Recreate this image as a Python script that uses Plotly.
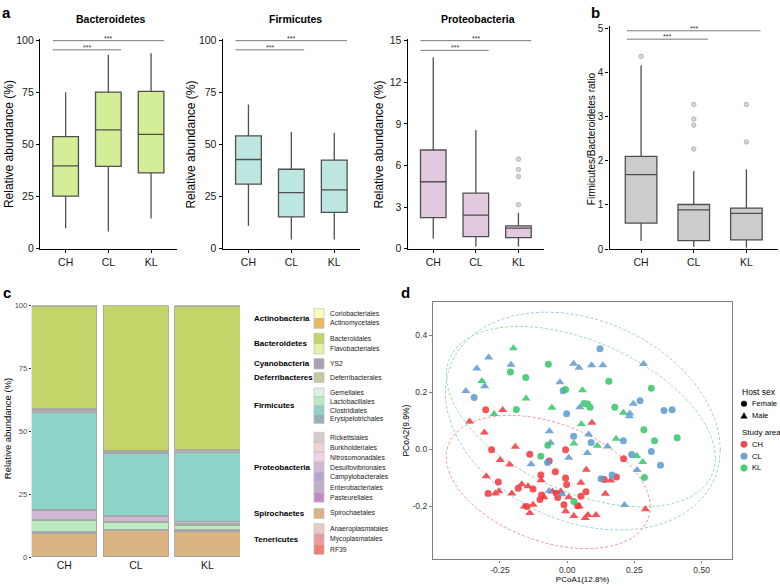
import numpy as np
import plotly.graph_objects as go

# ---------------- DATA ----------------
groups = ['CH', 'CL', 'KL']

# Panel a: box statistics (relative abundance, %)
bact_low = [9.9, 8.3, 14.5]
bact_q1 = [25.3, 39.6, 36.5]
bact_med = [39.8, 57.1, 55.0]
bact_q3 = [53.9, 75.3, 75.6]
bact_high = [75.2, 93.2, 94.0]

firm_low = [11.0, 4.4, 4.4]
firm_q1 = [31.1, 15.3, 17.5]
firm_med = [42.9, 27.0, 28.3]
firm_q3 = [54.2, 38.2, 42.6]
firm_high = [69.3, 56.1, 55.7]

prot_low = [0.73, 0.17, 0.17]
prot_q1 = [2.24, 0.87, 0.80]
prot_med = [4.83, 2.43, 1.49]
prot_q3 = [7.12, 4.01, 1.65]
prot_high = [13.8, 8.56, 2.59]
prot_out_KL = [6.46, 5.71, 5.21, 3.18]

# Panel b: Firmicutes/Bacteroidetes ratio
fb_low = [0.18, 0.05, 0.03]
fb_q1 = [0.59, 0.19, 0.21]
fb_med = [1.69, 0.89, 0.81]
fb_q3 = [2.10, 1.01, 0.93]
fb_high = [4.17, 1.77, 1.81]
fb_out_CH = [4.37]
fb_out_CL = [3.28, 2.95, 2.81, 2.27]
fb_out_KL = [3.28, 2.43]

# significance brackets
sig_pairs = [('CH', 'CL'), ('CH', 'KL')]
sig_labels = ['***', '***']
sig_y_bact = [95.6, 100.0]
sig_y_firm = [95.6, 100.0]
sig_y_prot = [14.3, 15.0]
sig_y_fb = [4.76, 4.95]

# Panel c: order-level composition (legend order)
phyla = ['Actinobacteria', 'Bacteroidetes', 'Cyanobacteria', 'Deferribacteres',
         'Firmicutes', 'Proteobacteria', 'Spirochaetes', 'Tenericutes']
phylum_orders = [
    ['Coriobacteriales', 'Actinomycetales'],
    ['Bacteroidales', 'Flavobacteriales'],
    ['YS2'],
    ['Deferribacterales'],
    ['Gemellales', 'Lactobacillales', 'Clostridiales', 'Erysipelotrichales'],
    ['Rickettsiales', 'Burkholderiales', 'Nitrosomonadales', 'Desulfovibrionales',
     'Campylobacterales', 'Enterobacteriales', 'Pasteurellales'],
    ['Spirochaetales'],
    ['Anaeroplasmatales', 'Mycoplasmatales', 'RF39'],
]
orders = [o for grp in phylum_orders for o in grp]
abund_CH = [0.1, 0.2, 40.8, 0.1, 0.1, 0.1, 0.3, 4.4, 38.3, 0.4, 0.1, 0.3, 0.1, 3.6, 0.4, 1.1, 0.2, 9.1, 0.1, 0.1, 0.1]
abund_CL = [0.1, 0.1, 57.6, 0.1, 0.1, 0.1, 0.3, 2.6, 24.5, 0.3, 0.1, 0.3, 0.1, 1.9, 0.3, 0.7, 0.2, 10.2, 0.1, 0.1, 0.2]
abund_KL = [0.1, 0.2, 57.0, 0.1, 0.1, 0.1, 0.3, 1.8, 27.3, 0.3, 0.1, 0.3, 0.1, 0.8, 0.4, 0.6, 0.3, 9.8, 0.1, 0.1, 0.1]
stack_order = ['RF39', 'Mycoplasmatales', 'Anaeroplasmatales', 'Spirochaetales', 'Pasteurellales',
               'Campylobacterales', 'Lactobacillales', 'Gemellales', 'Burkholderiales',
               'Desulfovibrionales', 'Erysipelotrichales', 'Clostridiales', 'Enterobacteriales',
               'Nitrosomonadales', 'Rickettsiales', 'Deferribacterales', 'YS2', 'Flavobacteriales',
               'Bacteroidales', 'Actinomycetales', 'Coriobacteriales']

# Panel d: PCoA coordinates
pcoa_CH_x = [-0.303, -0.240, -0.363, -0.308, -0.193, -0.281, -0.006, -0.139, -0.249, -0.067,
             -0.214, -0.044, -0.098, -0.006, -0.301, -0.097, -0.256, -0.002, 0.051, -0.169,
             -0.146, -0.182, -0.127, -0.254, -0.294, -0.267, -0.206, -0.095, -0.055, -0.041,
             -0.024, -0.086, -0.101, -0.035, 0.006, 0.051, -0.127, -0.159, -0.150, -0.012,
             0.039, -0.139, -0.006, 0.025, 0.045, 0.092, 0.210, 0.071, 0.138, 0.183,
             0.162, 0.070, 0.142, 0.291, 0.077, 0.107, 0.067]
pcoa_CH_y = [0.139, 0.138, 0.098, 0.059, 0.009, -0.001, -0.001, -0.017, -0.037, -0.041,
             -0.053, -0.078, -0.090, -0.100, -0.094, -0.108, -0.114, -0.123, -0.117, -0.122,
             -0.129, -0.136, -0.139, -0.147, -0.155, -0.155, -0.155, -0.160, -0.148, -0.154,
             -0.148, -0.168, -0.176, -0.169, -0.168, -0.164, -0.194, -0.200, -0.200, -0.194,
             -0.198, -0.223, -0.217, -0.234, -0.200, 0.094, -0.033, -0.071, -0.106, -0.097,
             -0.109, -0.149, -0.156, -0.210, -0.230, -0.230, -0.241]
pcoa_CH_sex = list('FMMMMFFFMFMFFFMMFFMMMFFMFMMFMFMMFFMFMMFFFMMMMMFMFFMFMMMMM')

pcoa_CL_x = [-0.292, -0.209, -0.336, 0.024, 0.044, -0.307, -0.377, -0.346, -0.027, -0.015,
             0.047, -0.002, -0.066, 0.024, -0.062, 0.006, -0.073, -0.134, -0.067, -0.019,
             0.122, 0.091, 0.133, 0.284, 0.246, 0.271, 0.233, 0.231, 0.360, 0.390,
             0.080, 0.089, 0.209, 0.150, 0.313, 0.240, 0.347, 0.075, 0.260, 0.167,
             0.126, 0.213]
pcoa_CL_y = [0.323, 0.297, 0.284, 0.301, 0.287, 0.222, 0.205, 0.182, 0.236, 0.206,
             0.148, 0.125, 0.064, 0.046, 0.023, -0.029, -0.046, -0.052, -0.146, -0.157,
             0.353, 0.295, 0.295, 0.300, 0.160, 0.171, 0.126, 0.116, 0.137, 0.139,
             0.052, 0.024, 0.030, 0.010, -0.007, -0.018, -0.056, -0.013, -0.072, -0.090,
             -0.103, -0.195]
pcoa_CL_sex = list('MMMMMMMFMFMFMFMMFMMMFMMMMFMMFFMFFMFFFMMFFM')

pcoa_KL_x = [-0.200, -0.070, -0.211, -0.154, -0.317, -0.153, -0.006, 0.057, -0.057, -0.189,
             -0.272, 0.053, -0.072, 0.025, -0.098, 0.025, 0.155, 0.313, 0.063, 0.076,
             0.085, 0.177, 0.209, 0.285, 0.409, 0.325, 0.112, 0.182, 0.259, 0.281, 0.287]
pcoa_KL_y = [0.355, 0.299, 0.272, 0.252, 0.240, 0.179, 0.210, 0.208, 0.146, 0.140,
             0.124, 0.088, 0.015, 0.021, -0.024, -0.183, 0.239, 0.215, 0.161, 0.159,
             0.148, 0.148, 0.129, 0.069, 0.041, 0.030, 0.013, 0.037, -0.023, -0.044, -0.099]
pcoa_KL_sex = list('MFFFMMFMMFMMFMFFFFFFFFMFFFMMMMF')

# ---------------- STYLE / LAYOUT CONSTANTS ----------------
W, H = 780, 587
FONT = "Liberation Sans, Arial, sans-serif"
def px(x): return x / W
def py(y): return 1 - y / H
def dx(l, r): return [px(l), px(r)]
def dy(t, b): return [py(b), py(t)]

order_colors = {
    'Coriobacteriales': '#FFFFB5', 'Actinomycetales': '#EDB95E', 'Bacteroidales': '#C4D469',
    'Flavobacteriales': '#E7F0A4', 'YS2': '#A89FB3', 'Deferribacterales': '#C9C59C',
    'Gemellales': '#DDF2DD', 'Lactobacillales': '#BAEBC1', 'Clostridiales': '#8DD3C7',
    'Erysipelotrichales': '#98AFBA', 'Rickettsiales': '#D9CBD0', 'Burkholderiales': '#F2D2D2',
    'Nitrosomonadales': '#F2D4E6', 'Desulfovibrionales': '#D0B7D4', 'Campylobacterales': '#B7A6CF',
    'Enterobacteriales': '#C5ABC6', 'Pasteurellales': '#C58BC8', 'Spirochaetales': '#D9B382',
    'Anaeroplasmatales': '#EACBC3', 'Mycoplasmatales': '#EB9A98', 'RF39': '#EE7F77'}
area_colors = {'CH': '#F2373D', 'CL': '#5D9ACF', 'KL': '#36C669'}
ell_colors = {'CH': '#F59A9C', 'CL': '#A6C8E8', 'KL': '#98DEB0'}

fig = go.Figure()
shapes = []
annotations = []

def ann(text, x, y, size, xanchor='center', yanchor='middle', angle=0, color='black', xref='paper', yref='paper'):
    if xref == 'paper':
        x = px(x)
    if yref == 'paper':
        y = py(y)
    annotations.append(dict(text=text, x=x, y=y, xref=xref, yref=yref, showarrow=False,
                            xanchor=xanchor, yanchor=yanchor, textangle=angle,
                            font=dict(size=size, color=color, family=FONT)))

# ---------------- PANEL a & b: boxes ----------------
def add_box(ax, low, q1, med, q3, high, fill):
    fig.add_trace(go.Box(x=groups, lowerfence=low, q1=q1, median=med, q3=q3, upperfence=high,
                         fillcolor=fill, line=dict(color='#4F4F4F', width=1.3), width=0.6,
                         whiskerwidth=0, boxpoints=False, xaxis='x' + ax, yaxis='y' + ax,
                         showlegend=False, hoverinfo='skip'))

def add_outliers(ax, grp, vals):
    fig.add_trace(go.Scatter(x=[grp] * len(vals), y=vals, mode='markers', xaxis='x' + ax, yaxis='y' + ax,
                             marker=dict(size=4.5, color='#D6D6D6', line=dict(color='#ABABAB', width=0.8)),
                             showlegend=False, hoverinfo='skip', cliponaxis=False))

def add_sig(ax, heights, half=0.3, ssize=7):
    for (g1, g2), lab, h in zip(sig_pairs, sig_labels, heights):
        i1, i2 = groups.index(g1), groups.index(g2)
        shapes.append(dict(type='line', xref='x' + ax, yref='y' + ax, x0=i1 - half, x1=i2 + half,
                           y0=h, y1=h, line=dict(color='#7A7A7A', width=1)))
        annotations.append(dict(text=lab, x=(i1 + i2) / 2, y=h, xref='x' + ax, yref='y' + ax,
                                showarrow=False, yanchor='bottom', yshift=-3,
                                font=dict(size=ssize, color='#333333', family=FONT)))

add_box('', bact_low, bact_q1, bact_med, bact_q3, bact_high, '#D4ED97')
add_box('2', firm_low, firm_q1, firm_med, firm_q3, firm_high, '#BDE6E1')
add_box('3', prot_low, prot_q1, prot_med, prot_q3, prot_high, '#E3C9E0')
add_outliers('3', 'KL', prot_out_KL)
add_box('4', fb_low, fb_q1, fb_med, fb_q3, fb_high, '#CCCCCC')
add_outliers('4', 'CH', fb_out_CH)
add_outliers('4', 'CL', fb_out_CL)
add_outliers('4', 'KL', fb_out_KL)

add_sig('', sig_y_bact)
add_sig('2', sig_y_firm)
add_sig('3', sig_y_prot)
add_sig('4', sig_y_fb, half=0.27)

# ---------------- PANEL c: stacked bars ----------------
abund = {'CH': abund_CH, 'CL': abund_CL, 'KL': abund_KL}
for o in stack_order:
    i = orders.index(o)
    fig.add_trace(go.Bar(x=groups, y=[abund[g][i] for g in groups], name=o, xaxis='x5', yaxis='y5',
                         marker=dict(color=order_colors[o], line=dict(color='#A6A6A6', width=0.9)),
                         showlegend=False, hoverinfo='skip', cliponaxis=False))

# manual grouped legend for panel c
leg_tops = [310, 335, 360.7, 375, 390.7, 435.7, 513.3, 528.7]
leg_rowh = [10, 10.5, 10.6, 10, 9, 10.15, 10, 10.4]
for ph, ords, top, rh in zip(phyla, phylum_orders, leg_tops, leg_rowh):
    ann('<b>%s</b>' % ph, 252, top + len(ords) * rh / 2, 8, xanchor='left')
    for k, o in enumerate(ords):
        y0 = top + k * rh
        shapes.append(dict(type='rect', xref='paper', yref='paper', x0=px(314), x1=px(324),
                           y0=py(y0 + rh), y1=py(y0), fillcolor=order_colors[o],
                           line=dict(color='#BDBDBD', width=0.7)))
        ann(o, 328, y0 + rh / 2, 6.8, xanchor='left', color='#222222')

# ---------------- PANEL d: PCoA ----------------
def stat_ellipse(x, y, level=0.95, segments=51):
    X = np.column_stack([x, y])
    n = len(X)
    center = X.mean(axis=0)
    shape = np.cov(X.T)
    dfd = n - 1
    fq = dfd / 2 * ((1 - level) ** (-2 / dfd) - 1)  # qf(level, 2, dfd)
    radius = np.sqrt(2 * fq)
    chol = np.linalg.cholesky(shape).T
    ang = np.linspace(0, 2 * np.pi, segments + 1)
    circ = np.column_stack([np.cos(ang), np.sin(ang)])
    return center + radius * circ @ chol

pcoa = {'CH': (pcoa_CH_x, pcoa_CH_y, pcoa_CH_sex),
        'CL': (pcoa_CL_x, pcoa_CL_y, pcoa_CL_sex),
        'KL': (pcoa_KL_x, pcoa_KL_y, pcoa_KL_sex)}

for g in groups:
    xs, ys, ss = pcoa[g]
    e = stat_ellipse(xs, ys)
    fig.add_trace(go.Scatter(x=e[:, 0], y=e[:, 1], mode='lines', xaxis='x6', yaxis='y6',
                             line=dict(color=ell_colors[g], width=1, dash='3px,2px'),
                             showlegend=False, hoverinfo='skip'))
for g in groups:
    xs, ys, ss = pcoa[g]
    for sex, sym, size in [('F', 'circle', 7), ('M', 'triangle-up', 8)]:
        idx = [i for i, s in enumerate(ss) if s == sex]
        fig.add_trace(go.Scatter(x=[xs[i] for i in idx], y=[ys[i] for i in idx], mode='markers',
                                 xaxis='x6', yaxis='y6', opacity=0.85,
                                 marker=dict(symbol=sym, size=size, color=area_colors[g], line=dict(width=0)),
                                 showlegend=False, hoverinfo='skip'))

# manual legend for panel d
ann('Host sex', 739.5, 394.5, 8.5, xanchor='left')
lx = 744
shapes.append(dict(type='circle', xref='paper', yref='paper', x0=px(lx - 3), x1=px(lx + 3),
                   y0=py(406.7 + 3), y1=py(406.7 - 3), fillcolor='black', line=dict(width=0)))
ann('Female', 750, 406.7, 7.5, xanchor='left')
shapes.append(dict(type='path', xref='paper', yref='paper',
                   path='M %f,%f L %f,%f L %f,%f Z' % (px(lx - 3.6), py(418.7 + 3), px(lx + 3.6), py(418.7 + 3),
                                                       px(lx), py(418.7 - 3.4)),
                   fillcolor='black', line=dict(width=0)))
ann('Male', 750, 418.7, 7.5, xanchor='left')
ann('Study area', 739.5, 436, 8, xanchor='left')
for k, g in enumerate(groups):
    yc = 448 + 12 * k
    shapes.append(dict(type='circle', xref='paper', yref='paper', x0=px(lx - 3.5), x1=px(lx + 3.5),
                       y0=py(yc + 3.5), y1=py(yc - 3.5), fillcolor=area_colors[g], opacity=0.9,
                       line=dict(width=0)))
    ann(g, 750, yc, 7.5, xanchor='left')

# ---------------- TEXT ----------------
ann('<b>a</b>', 7, 9, 15)
ann('<b>b</b>', 595, 9, 15)
ann('<b>c</b>', 7, 293, 15)
ann('<b>d</b>', 405, 293, 15)
ann('<b>Bacteroidetes</b>', 111, 15, 10.5)
ann('<b>Firmicutes</b>', 295, 15, 10.5)
ann('<b>Proteobacteria</b>', 478, 15, 10.5)
for xx in [8.5, 191, 379]:
    ann('Relative abundance (%)', xx, 143, 12, angle=-90)
ann('Firmicutes/Bacteroidetes ratio', 591.5, 137, 10, angle=-90)
ann('Relative abundance (%)', 7.5, 432, 9.5, angle=-90)
ann('PCoA2(9.9%)', 406, 434, 8.5, angle=-90)

# ---------------- AXES ----------------
def cat_x(dom, anchor, size):
    return dict(domain=dom, anchor=anchor, type='category', categoryorder='array', categoryarray=groups,
                range=[-0.6, 2.6], showline=True, linecolor='black', linewidth=1.3, ticks='outside',
                ticklen=3, tickcolor='black', tickwidth=1, tickfont=dict(size=size, color='#1A1A1A'),
                showgrid=False, zeroline=False, fixedrange=True)

def num_y(dom, anchor, rng, tv, size):
    return dict(domain=dom, anchor=anchor, range=rng, tickvals=tv, ticktext=[str(v) for v in tv],
                showline=True, linecolor='black', linewidth=1.3, ticks='outside', ticklen=3,
                tickcolor='black', tickwidth=1, tickfont=dict(size=size, color='#1A1A1A'),
                showgrid=False, zeroline=False, fixedrange=True)

a_bottom, a_top100 = 249.0, 37.3
a_dom = dy(a_bottom - (a_bottom - a_top100) * 1.01, a_bottom)
b_bottom, b_unit = 249.3, 44.86
b_dom = dy(b_bottom - b_unit * 5.05, b_bottom)

layout = dict(
    width=W, height=H, margin=dict(l=0, r=0, t=0, b=0), paper_bgcolor='white', plot_bgcolor='white',
    showlegend=False, barmode='stack', bargap=0.092, font=dict(family=FONT, color='black'),
    xaxis=cat_x(dx(40, 176.7), 'y', 10.5),
    yaxis=num_y(a_dom, 'x', [0, 101], [0, 25, 50, 75, 100], 10.5),
    xaxis2=cat_x(dx(222.7, 360), 'y2', 10.5),
    yaxis2=num_y(a_dom, 'x2', [0, 101], [0, 25, 50, 75, 100], 10.5),
    xaxis3=cat_x(dx(407.7, 544), 'y3', 10.5),
    yaxis3=num_y(a_dom, 'x3', [0, 15.15], [0, 3, 6, 9, 12, 15], 10.5),
    xaxis4=cat_x(dx(609.5, 778), 'y4', 10.5),
    yaxis4=num_y(b_dom, 'x4', [0, 5.05], [0, 1, 2, 3, 4, 5], 10),
    xaxis5=dict(domain=dx(31.7, 240), anchor='y5', type='category', categoryorder='array',
                categoryarray=groups, range=[-0.454, 2.454], showline=False, ticks='',
                tickfont=dict(size=10.5, color='#1A1A1A'), showgrid=False, zeroline=False, fixedrange=True),
    yaxis5=dict(domain=dy(306.7, 562.7), anchor='x5', range=[0, 100], tickvals=[0, 25, 50, 75, 100],
                ticktext=['0', '25', '50', '75', '100'], showline=False, ticks='outside', ticklen=2,
                tickcolor='#333333', tickfont=dict(size=7.5, color='#4D4D4D'), showgrid=False,
                zeroline=False, fixedrange=True),
    xaxis6=dict(domain=dx(433, 732), anchor='y6', range=[-0.499, 0.613], tickvals=[-0.25, 0, 0.25, 0.5],
                ticktext=['-0.25', '0.00', '0.25', '0.50'], showline=True, mirror=True, linecolor='#7F7F7F',
                linewidth=1.3, ticks='outside', ticklen=2, tickcolor='#7F7F7F',
                tickfont=dict(size=8.5, color='#333333'), showgrid=False, zeroline=False, fixedrange=True,
                title=dict(text='PCoA1(12.8%)', standoff=1, font=dict(size=8, color='black', family=FONT))),
    yaxis6=dict(domain=dy(303, 565), anchor='x6', range=[-0.386, 0.518], tickvals=[-0.2, 0, 0.2, 0.4],
                ticktext=['-0.2', '0.0', '0.2', '0.4'], showline=True, mirror=True, linecolor='#7F7F7F',
                linewidth=1.3, ticks='outside', ticklen=3, tickcolor='#7F7F7F',
                tickfont=dict(size=8.5, color='#333333'), showgrid=False, zeroline=False, fixedrange=True),
    shapes=shapes, annotations=annotations,
)
fig.update_layout(**layout)
# remove the default 8px page margin so the 780x587 figure fills the window exactly
fig.write_html('out.html', config={'displayModeBar': False},
               post_script="document.body.style.margin='0px';document.body.style.overflow='hidden';")
